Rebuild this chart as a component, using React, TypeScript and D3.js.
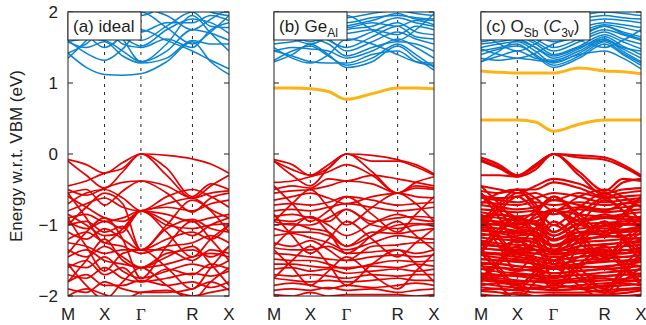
import React from "react";
import * as d3 from "d3";

// k-path: knots at high-symmetry points and midpoints (segment units)
const K_KNOTS = [0, 0.5, 1, 1.5, 2, 2.5, 3, 3.5, 4];
const K_LABELS = ["M", "X", "Γ", "R", "X"];
const K_FRACS = [0, 0.227, 0.453, 0.773, 1];
const Y_TICKS = [2, 1, 0, -1, -2];

// (a) ideal
const CB_A = [
  [1.42, 1.22, 1.12, 1.11, 1.13, 1.3, 1.58, 1.3, 1.12],
  [1.58, 1.5, 1.58, 1.38, 1.28, 1.35, 1.6, 1.55, 1.55],
  [1.58, 1.62, 1.6, 1.45, 1.3, 1.45, 1.75, 1.7, 1.6],
  [1.42, 1.55, 1.75, 1.55, 1.5, 1.62, 1.5, 1.75, 1.85],
  [1.8, 1.72, 1.62, 1.62, 1.52, 1.75, 1.9, 1.85, 1.7],
  [1.95, 1.85, 1.9, 1.75, 1.72, 1.85, 1.85, 1.95, 1.88],
  [2.1, 1.98, 1.8, 1.95, 2.05, 1.95, 1.75, 1.9, 2.05],
  [2.2, 2.1, 2.05, 2.0, 1.95, 2.1, 2.2, 2.0, 1.95],
  [1.72, 1.9, 2.1, 1.85, 1.6, 1.8, 2.0, 1.8, 1.78],
  [1.35, 1.6, 1.9, 1.62, 1.3, 1.55, 1.95, 1.7, 1.45],
  [1.6, 1.42, 1.32, 1.48, 1.75, 1.6, 1.45, 1.32, 1.2],
  [1.98, 1.7, 1.5, 1.68, 2.0, 1.78, 1.55, 1.72, 1.95],
];
const VB_A = [
  [-0.08, -0.15, -0.27, -0.12, 0.0, -0.02, -0.07, -0.14, -0.27],
  [-0.1, -0.3, -0.48, -0.25, 0.0, -0.3, -0.62, -0.45, -0.3],
  [-0.45, -0.38, -0.27, -0.2, 0.0, -0.2, -0.6, -0.42, -0.5],
  [-0.5, -0.58, -0.48, -0.4, -0.38, -0.45, -0.62, -0.55, -0.52],
  [-0.55, -0.5, -0.72, -0.52, -0.38, -0.55, -0.82, -0.62, -0.55],
  [-0.8, -0.7, -0.62, -0.75, -0.8, -0.7, -0.62, -0.78, -0.9],
  [-0.9, -0.85, -0.95, -0.9, -0.8, -0.85, -0.95, -0.9, -0.85],
  [-0.95, -1.05, -0.95, -1.05, -0.8, -1.0, -1.05, -1.0, -0.98],
  [-1.0, -0.95, -1.1, -1.02, -1.35, -1.05, -0.92, -1.05, -1.1],
  [-1.1, -1.2, -1.05, -1.2, -1.35, -1.2, -1.1, -1.2, -1.0],
  [-1.2, -1.1, -1.25, -1.3, -1.4, -1.3, -1.25, -1.15, -1.25],
  [-1.35, -1.45, -1.3, -1.45, -1.6, -1.4, -1.35, -1.45, -1.3],
  [-1.45, -1.35, -1.5, -1.55, -1.6, -1.55, -1.45, -1.4, -1.45],
  [-1.55, -1.6, -1.45, -1.65, -1.75, -1.65, -1.55, -1.6, -1.5],
  [-1.6, -1.5, -1.7, -1.6, -1.8, -1.62, -1.7, -1.55, -1.62],
  [-1.7, -1.75, -1.6, -1.75, -1.8, -1.75, -1.68, -1.72, -1.65],
  [-1.8, -1.7, -1.85, -1.85, -1.78, -1.85, -1.8, -1.88, -1.8],
  [-1.9, -1.95, -1.8, -1.9, -1.95, -1.95, -1.9, -1.8, -1.92],
  [-2.0, -1.9, -1.98, -2.05, -1.95, -1.92, -2.0, -1.95, -1.9],
  [-0.85, -1.0, -1.15, -1.1, -0.8, -0.95, -1.15, -1.0, -0.9],
  [-1.25, -1.3, -1.4, -1.35, -1.35, -1.35, -1.5, -1.35, -1.4],
  [-0.6, -0.75, -0.9, -0.95, -0.8, -0.75, -0.8, -0.7, -0.65],
  [-0.55, -0.9, -1.25, -1.05, -0.8, -1.1, -1.45, -1.2, -1.0],
  [-1.0, -0.75, -0.55, -0.7, -1.35, -1.0, -0.65, -0.8, -1.1],
  [-1.4, -1.1, -0.9, -1.2, -1.75, -1.3, -0.95, -1.2, -1.5],
  [-0.9, -1.3, -1.65, -1.4, -1.35, -1.6, -1.9, -1.6, -1.3],
  [-1.8, -1.5, -1.2, -1.5, -1.6, -1.45, -1.3, -1.55, -1.85],
  [-1.55, -1.85, -2.05, -1.8, -1.6, -1.85, -2.05, -1.8, -1.6],
  [-0.7, -0.55, -0.5, -0.62, -0.8, -0.6, -0.5, -0.6, -0.75],
];

// (b) Ge_Al
const CB_B = [
  [1.3, 1.4, 1.55, 1.4, 1.22, 1.3, 1.52, 1.35, 1.18],
  [1.32, 1.45, 1.52, 1.38, 1.25, 1.35, 1.55, 1.4, 1.22],
  [1.45, 1.38, 1.3, 1.28, 1.28, 1.4, 1.45, 1.3, 1.25],
  [1.45, 1.5, 1.48, 1.45, 1.35, 1.45, 1.62, 1.5, 1.35],
  [1.55, 1.58, 1.62, 1.55, 1.38, 1.5, 1.58, 1.55, 1.45],
  [1.62, 1.65, 1.7, 1.62, 1.45, 1.58, 1.72, 1.62, 1.55],
  [1.65, 1.72, 1.75, 1.6, 1.5, 1.65, 1.8, 1.65, 1.62],
  [1.75, 1.8, 1.78, 1.7, 1.6, 1.72, 1.85, 1.72, 1.68],
  [1.8, 1.85, 1.85, 1.78, 1.7, 1.75, 1.68, 1.8, 1.75],
  [1.88, 1.92, 1.9, 1.85, 1.78, 1.85, 1.8, 1.88, 1.82],
  [1.92, 1.95, 1.95, 1.9, 1.85, 1.92, 1.95, 1.92, 1.9],
  [1.98, 2.0, 1.98, 1.95, 1.92, 1.98, 2.02, 1.98, 1.95],
  [1.7, 1.62, 1.55, 1.65, 1.75, 1.8, 1.92, 1.85, 1.8],
  [1.85, 1.75, 1.65, 1.72, 1.8, 1.88, 1.98, 1.9, 1.88],
  [1.5, 1.35, 1.28, 1.4, 1.62, 1.55, 1.4, 1.3, 1.28],
  [1.95, 1.7, 1.58, 1.72, 1.95, 1.75, 1.6, 1.75, 1.98],
];
const DEF_B = [[0.93, 0.93, 0.92, 0.88, 0.77, 0.85, 0.93, 0.93, 0.92]];
const VB_B = [
  [-0.08, -0.15, -0.3, -0.15, 0.0, -0.02, -0.08, -0.15, -0.28],
  [-0.1, -0.22, -0.3, -0.2, 0.0, -0.1, -0.1, -0.18, -0.3],
  [-0.1, -0.3, -0.45, -0.2, 0.0, -0.25, -0.55, -0.4, -0.32],
  [-0.4, -0.38, -0.32, -0.25, -0.15, -0.3, -0.55, -0.45, -0.48],
  [-0.5, -0.45, -0.48, -0.35, -0.38, -0.3, -0.35, -0.4, -0.45],
  [-0.55, -0.52, -0.5, -0.45, -0.38, -0.42, -0.55, -0.48, -0.5],
  [-0.65, -0.6, -0.55, -0.62, -0.7, -0.6, -0.55, -0.6, -0.62],
  [-0.72, -0.7, -0.72, -0.68, -0.6, -0.65, -0.72, -0.7, -0.68],
  [-0.8, -0.78, -0.8, -0.75, -0.7, -0.75, -0.8, -0.78, -0.75],
  [-0.88, -0.85, -0.9, -0.95, -0.78, -0.95, -0.9, -0.88, -0.9],
  [-0.92, -0.95, -0.88, -1.0, -1.15, -0.98, -0.85, -0.92, -0.95],
  [-0.95, -1.0, -1.0, -0.9, -0.78, -1.0, -1.05, -1.0, -0.98],
  [-1.0, -0.98, -1.05, -1.1, -1.3, -1.15, -1.0, -0.98, -1.02],
  [-1.05, -1.1, -1.1, -1.15, -1.3, -1.1, -1.12, -1.08, -1.05],
  [-1.15, -1.12, -1.18, -1.25, -1.35, -1.25, -1.15, -1.18, -1.2],
  [-1.25, -1.3, -1.22, -1.35, -1.5, -1.3, -1.28, -1.25, -1.25],
  [-1.32, -1.35, -1.35, -1.3, -1.4, -1.38, -1.35, -1.4, -1.35],
  [-1.4, -1.42, -1.45, -1.48, -1.5, -1.45, -1.42, -1.45, -1.42],
  [-1.48, -1.5, -1.5, -1.55, -1.62, -1.55, -1.5, -1.52, -1.5],
  [-1.55, -1.55, -1.58, -1.6, -1.6, -1.58, -1.6, -1.55, -1.58],
  [-1.62, -1.6, -1.65, -1.62, -1.68, -1.65, -1.62, -1.65, -1.62],
  [-1.7, -1.72, -1.7, -1.72, -1.75, -1.7, -1.72, -1.7, -1.7],
  [-1.75, -1.78, -1.8, -1.78, -1.8, -1.78, -1.75, -1.78, -1.78],
  [-1.85, -1.82, -1.85, -1.9, -1.85, -1.88, -1.85, -1.82, -1.85],
  [-1.92, -1.9, -1.92, -1.88, -1.92, -1.9, -1.95, -1.92, -1.9],
  [-1.98, -2.0, -1.95, -2.0, -1.98, -1.98, -1.98, -2.0, -1.98],
  [-0.45, -0.7, -0.95, -0.8, -0.6, -0.85, -1.1, -0.85, -0.6],
  [-0.95, -0.7, -0.5, -0.75, -1.0, -0.75, -0.55, -0.7, -0.95],
  [-1.3, -1.05, -0.88, -1.1, -1.4, -1.15, -0.95, -1.15, -1.35],
  [-0.85, -1.15, -1.4, -1.2, -0.95, -1.2, -1.45, -1.25, -1.05],
  [-1.75, -1.5, -1.3, -1.55, -1.85, -1.55, -1.35, -1.55, -1.8],
  [-1.35, -1.6, -1.85, -1.65, -1.45, -1.7, -1.9, -1.65, -1.4],
];

// (c) O_Sb (C3v)
const CB_C = [
  [1.45, 1.5, 1.55, 1.38, 1.22, 1.35, 1.55, 1.4, 1.25],
  [1.4, 1.48, 1.52, 1.4, 1.25, 1.38, 1.58, 1.42, 1.28],
  [1.35, 1.32, 1.35, 1.32, 1.3, 1.4, 1.45, 1.35, 1.2],
  [1.5, 1.55, 1.58, 1.45, 1.28, 1.42, 1.6, 1.48, 1.35],
  [1.55, 1.58, 1.62, 1.5, 1.35, 1.48, 1.65, 1.52, 1.4],
  [1.58, 1.62, 1.65, 1.55, 1.4, 1.52, 1.68, 1.58, 1.48],
  [1.62, 1.65, 1.68, 1.58, 1.45, 1.58, 1.72, 1.62, 1.55],
  [1.68, 1.7, 1.72, 1.62, 1.5, 1.62, 1.75, 1.68, 1.6],
  [1.72, 1.75, 1.75, 1.68, 1.58, 1.68, 1.8, 1.72, 1.65],
  [1.78, 1.8, 1.8, 1.72, 1.62, 1.72, 1.82, 1.78, 1.72],
  [1.82, 1.85, 1.85, 1.78, 1.68, 1.78, 1.85, 1.82, 1.78],
  [1.88, 1.9, 1.9, 1.85, 1.75, 1.85, 1.9, 1.88, 1.85],
  [1.92, 1.95, 1.95, 1.9, 1.82, 1.9, 1.95, 1.92, 1.9],
  [1.98, 2.0, 1.98, 1.95, 1.9, 1.95, 2.0, 1.98, 1.95],
  [1.3, 1.38, 1.45, 1.35, 1.32, 1.45, 1.62, 1.5, 1.45],
  [1.48, 1.4, 1.35, 1.42, 1.55, 1.65, 1.8, 1.7, 1.62],
  [1.3, 1.45, 1.6, 1.5, 1.38, 1.5, 1.62, 1.45, 1.3],
  [1.7, 1.55, 1.45, 1.55, 1.7, 1.6, 1.5, 1.6, 1.75],
];
const DEF_C = [
  [1.17, 1.15, 1.14, 1.14, 1.14, 1.21, 1.17, 1.16, 1.13],
  [0.48, 0.48, 0.48, 0.45, 0.32, 0.42, 0.48, 0.48, 0.48],
];
const VB_C = [
  [-0.05, -0.15, -0.3, -0.15, 0.0, -0.02, -0.05, -0.15, -0.3],
  [-0.08, -0.18, -0.3, -0.18, 0.0, -0.05, -0.08, -0.18, -0.32],
  [-0.1, -0.2, -0.32, -0.22, 0.0, -0.3, -0.58, -0.4, -0.35],
  [-0.3, -0.3, -0.32, -0.15, 0.0, -0.25, -0.52, -0.35, -0.38],
  [-0.45, -0.5, -0.55, -0.45, -0.35, -0.42, -0.55, -0.5, -0.48],
  [-0.52, -0.55, -0.5, -0.5, -0.4, -0.48, -0.6, -0.55, -0.52],
  [-0.58, -0.62, -0.6, -0.55, -0.65, -0.55, -0.62, -0.6, -0.58],
  [-0.62, -0.65, -0.68, -0.62, -0.55, -0.6, -0.68, -0.65, -0.62],
  [-0.68, -0.7, -0.72, -0.68, -0.72, -0.68, -0.72, -0.7, -0.68],
  [-0.72, -0.75, -0.78, -0.75, -0.65, -0.72, -0.78, -0.75, -0.72],
  [-0.78, -0.8, -0.82, -0.8, -0.85, -0.78, -0.82, -0.8, -0.78],
  [-0.82, -0.86, -0.88, -0.85, -0.8, -0.85, -0.88, -0.85, -0.82],
  [-0.88, -0.9, -0.93, -0.95, -1.1, -0.92, -0.9, -0.92, -0.88],
  [-0.92, -0.96, -0.98, -0.98, -1.15, -0.98, -0.97, -0.95, -0.93],
  [-0.98, -1.0, -1.03, -1.05, -1.2, -1.05, -1.02, -1.0, -0.98],
  [-1.03, -1.05, -1.08, -1.1, -1.22, -1.1, -1.08, -1.06, -1.02],
  [-1.08, -1.1, -1.12, -1.15, -1.28, -1.15, -1.12, -1.1, -1.08],
  [-1.12, -1.16, -1.18, -1.2, -1.3, -1.2, -1.17, -1.15, -1.13],
  [-1.18, -1.2, -1.22, -1.25, -1.35, -1.25, -1.22, -1.2, -1.18],
  [-1.22, -1.26, -1.28, -1.3, -1.38, -1.3, -1.27, -1.25, -1.22],
  [-1.28, -1.3, -1.32, -1.35, -1.42, -1.35, -1.32, -1.3, -1.28],
  [-1.33, -1.35, -1.38, -1.4, -1.45, -1.4, -1.38, -1.36, -1.32],
  [-1.38, -1.4, -1.42, -1.45, -1.5, -1.45, -1.42, -1.4, -1.38],
  [-1.42, -1.46, -1.48, -1.5, -1.55, -1.5, -1.47, -1.45, -1.43],
  [-1.48, -1.5, -1.52, -1.55, -1.58, -1.55, -1.52, -1.5, -1.48],
  [-1.53, -1.55, -1.58, -1.6, -1.62, -1.6, -1.58, -1.56, -1.52],
  [-1.58, -1.6, -1.62, -1.65, -1.68, -1.65, -1.62, -1.6, -1.58],
  [-1.62, -1.66, -1.68, -1.7, -1.72, -1.7, -1.67, -1.65, -1.63],
  [-1.68, -1.7, -1.72, -1.75, -1.78, -1.75, -1.72, -1.7, -1.68],
  [-1.73, -1.75, -1.78, -1.8, -1.82, -1.8, -1.78, -1.76, -1.72],
  [-1.78, -1.8, -1.82, -1.85, -1.88, -1.85, -1.82, -1.8, -1.78],
  [-1.82, -1.86, -1.88, -1.9, -1.92, -1.9, -1.87, -1.85, -1.83],
  [-1.88, -1.9, -1.92, -1.95, -1.95, -1.95, -1.92, -1.9, -1.88],
  [-1.93, -1.95, -1.98, -2.0, -2.0, -2.0, -1.98, -1.96, -1.92],
  [-0.55, -0.8, -1.05, -0.85, -0.6, -0.9, -1.15, -0.9, -0.6],
  [-1.05, -0.8, -0.6, -0.8, -1.1, -0.85, -0.62, -0.8, -1.05],
  [-1.35, -1.1, -0.95, -1.15, -1.55, -1.2, -1.0, -1.2, -1.4],
  [-0.9, -1.2, -1.45, -1.25, -1.0, -1.25, -1.5, -1.3, -1.1],
  [-1.8, -1.55, -1.35, -1.6, -1.9, -1.6, -1.4, -1.6, -1.85],
  [-1.4, -1.65, -1.9, -1.7, -1.5, -1.75, -1.95, -1.7, -1.45],
];

const RED = "#e60000";
const BLUE = "#0a84d0";
const ORANGE = "#fcb414";

const H = 325;
const TOP = 12;
const BOTTOM = 296;

type PanelProps = {
  id: string;
  left: number;
  right: number;
  cb: number[][];
  vb: number[][];
  extraVb?: number[][];
  defects?: number[][];
  vbWidth?: number;
  label: React.ReactNode;
  labelWidth: number;
  showYLabels: boolean;
};

function Panel({ id, left, right, cb, vb, extraVb = [], defects = [], vbWidth = 1.7, label, labelWidth, showYLabels }: PanelProps) {
  const kPos = K_FRACS.map((f) => left + f * (right - left));
  const x = d3.scaleLinear().domain([0, 1, 2, 3, 4]).range(kPos);
  const y = d3.scaleLinear().domain([-2, 2]).range([BOTTOM, TOP]);
  const line = d3
    .line<number>()
    .x((_, i) => x(K_KNOTS[i]))
    .y((d) => y(d))
    .curve(d3.curveMonotoneX);

  return (
    <g>
      <defs>
        <clipPath id={`clip-${id}`}>
          <rect x={left} y={TOP} width={right - left} height={BOTTOM - TOP} />
        </clipPath>
      </defs>
      {kPos.slice(1, 4).map((p, i) => (
        <line key={i} x1={p} x2={p} y1={TOP} y2={BOTTOM} stroke="#222" strokeWidth={1} strokeDasharray="3,5" />
      ))}
      <g clipPath={`url(#clip-${id})`} fill="none">
        {[...vb, ...extraVb].map((b, i) => (
          <path key={`v${i}`} d={line(b) ?? ""} stroke={RED} strokeWidth={vbWidth} />
        ))}
        {cb.map((b, i) => (
          <path key={`c${i}`} d={line(b) ?? ""} stroke={BLUE} strokeWidth={1.5} />
        ))}
        {defects.map((b, i) => (
          <path key={`d${i}`} d={line(b) ?? ""} stroke={ORANGE} strokeWidth={3} />
        ))}
      </g>
      <rect x={left} y={TOP} width={right - left} height={BOTTOM - TOP} fill="none" stroke="#222" strokeWidth={1} />
      {Y_TICKS.map((t) => (
        <g key={t}>
          <line x1={left} x2={left + 5} y1={y(t)} y2={y(t)} stroke="#222" />
          <line x1={right - 5} x2={right} y1={y(t)} y2={y(t)} stroke="#222" />
          {showYLabels && (
            <text x={left - 10} y={y(t)} dy="0.36em" textAnchor="end" fontSize={17} fill="#222">
              {t < 0 ? `−${Math.abs(t)}` : t}
            </text>
          )}
        </g>
      ))}
      {K_LABELS.map((l, i) => (
        <text
          key={i}
          x={kPos[i]}
          y={320}
          textAnchor="middle"
          fontSize={17}
          fill="#222"
          fontFamily={l === "Γ" ? "'Liberation Serif', serif" : undefined}
        >
          {l}
        </text>
      ))}
      <rect x={left} y={TOP} width={labelWidth} height={28} fill="white" stroke="#222" strokeWidth={1} />
      <text x={left + 5} y={TOP + 20} fontSize={17} fill="#222">
        {label}
      </text>
    </g>
  );
}

export default function App() {
  return (
    <svg
      width={646}
      height={H}
      style={{ position: "absolute", left: 0, top: 0, background: "white" }}
      fontFamily="'Liberation Sans', Arial, sans-serif"
    >
      <text transform={`translate(22,${(TOP + BOTTOM) / 2 + 2}) rotate(-90)`} textAnchor="middle" fontSize={17} fill="#222">
        Energy w.r.t. VBM (eV)
      </text>
      <Panel id="a" left={68} right={229} cb={CB_A} vb={VB_A} label="(a) ideal" labelWidth={73} showYLabels />
      <Panel
        id="b"
        left={274}
        right={434}
        cb={CB_B}
        vb={VB_B}
        defects={DEF_B}
        labelWidth={73}
        showYLabels={false}
        label={
          <>
            (b) Ge
            <tspan fontSize={12} dy={5}>Al</tspan>
          </>
        }
      />
      <Panel
        id="c"
        left={481}
        right={641}
        cb={CB_C}
        vb={VB_C}
        extraVb={[...VB_B.slice(9), ...VB_A.slice(19)]}
        defects={DEF_C}
        vbWidth={2.1}
        labelWidth={109}
        showYLabels={false}
        label={
          <>
            (c) O
            <tspan fontSize={12} dy={5}>Sb</tspan>
            <tspan dy={-5}> (</tspan>
            <tspan fontStyle="italic">C</tspan>
            <tspan fontSize={12} dy={5}>3v</tspan>
            <tspan dy={-5}>)</tspan>
          </>
        }
      />
    </svg>
  );
}
